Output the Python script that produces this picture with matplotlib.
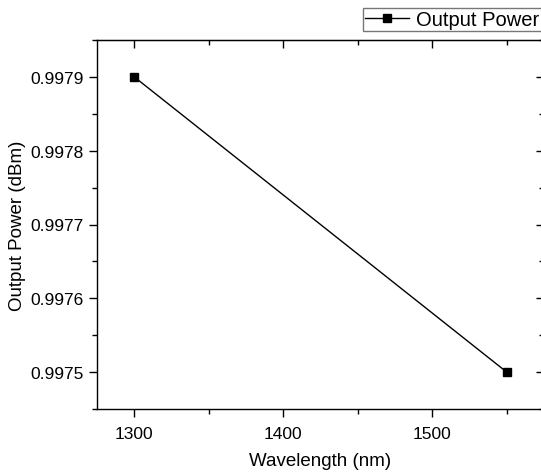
import matplotlib.pyplot as plt
from matplotlib.ticker import MultipleLocator, FormatStrFormatter

plt.rcParams['font.family'] = ['Liberation Sans', 'DejaVu Sans']

# data
wavelength = [1300, 1550]
output_power = [0.9979, 0.9975]

fig = plt.figure(figsize=(5.41, 4.77), dpi=100)
ax = fig.add_axes([97/541, 1 - 410/477, (544 - 97)/541, (410 - 41)/477])

ax.plot(wavelength, output_power, color="black", lw=1.0, marker="s",
        markersize=6, label="Output Power")

ax.set_xlim(1275, 1575)
ax.set_ylim(0.99745, 0.99795)
ax.xaxis.set_major_locator(MultipleLocator(100))
ax.xaxis.set_minor_locator(MultipleLocator(50))
ax.yaxis.set_major_locator(MultipleLocator(0.0001))
ax.yaxis.set_minor_locator(MultipleLocator(0.00005))
ax.yaxis.set_major_formatter(FormatStrFormatter("%.4f"))

ax.tick_params(which="both", direction="out", top=False, right=False, labelsize=12.5, width=1)
ax.tick_params(which="major", length=6)
ax.tick_params(which="minor", length=3.5)
ax.tick_params(axis="x", pad=6)

# mirror ticks pointing inward on top and right
sec_x = ax.secondary_xaxis("top")
sec_x.xaxis.set_major_locator(MultipleLocator(100))
sec_x.xaxis.set_minor_locator(MultipleLocator(50))
sec_x.tick_params(which="both", direction="in", labeltop=False, width=1)
sec_x.tick_params(which="major", length=6)
sec_x.tick_params(which="minor", length=3.5)
sec_y = ax.secondary_yaxis("right")
sec_y.yaxis.set_major_locator(MultipleLocator(0.0001))
sec_y.yaxis.set_minor_locator(MultipleLocator(0.00005))
sec_y.tick_params(which="both", direction="in", labelright=False, width=1)
sec_y.tick_params(which="major", length=6)
sec_y.tick_params(which="minor", length=3.5)

for s in ax.spines.values():
    s.set_linewidth(1)

ax.set_xlabel("Wavelength (nm)", fontsize=13.5, labelpad=8)
ax.set_ylabel("Output Power (dBm)", fontsize=13.5, labelpad=3)

leg = fig.legend(loc="upper left", bbox_to_anchor=(363/541, 1 - 9/477),
                 fontsize=14.5, frameon=True, fancybox=False, handlelength=2.2,
                 borderpad=0.1, handletextpad=0.35, borderaxespad=0)
leg.get_frame().set_edgecolor("#555555")
leg.get_frame().set_linewidth(1)

fig.savefig("out.png", dpi=100)
